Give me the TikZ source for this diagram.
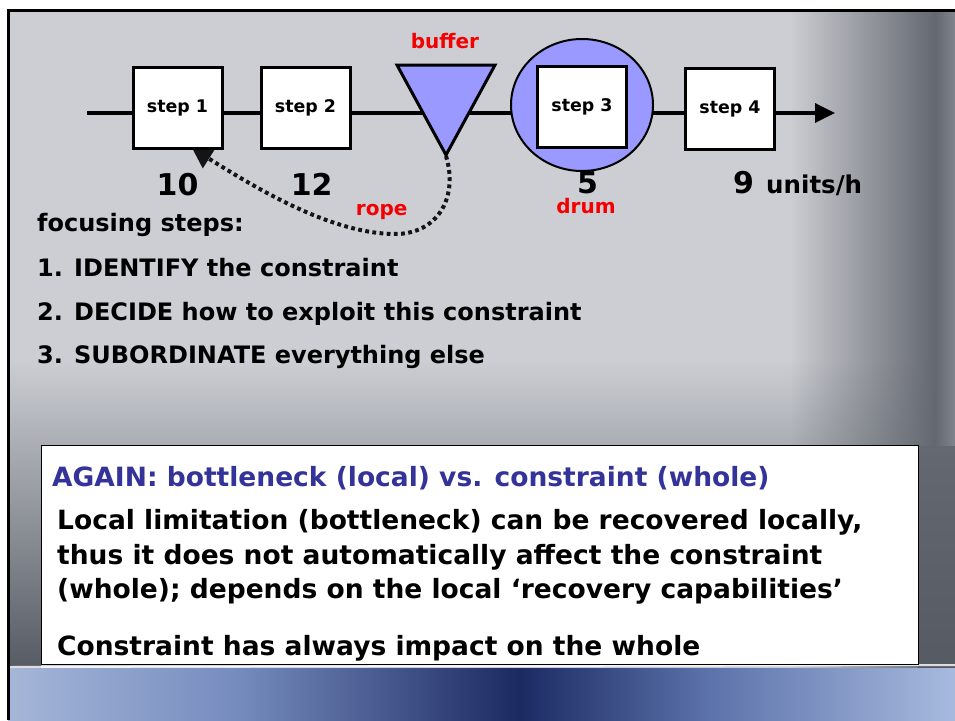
\documentclass[tikz,border=0pt]{standalone}
\usepackage{fontspec}
\setmainfont{DejaVu Sans}
\usetikzlibrary{arrows.meta,shapes.geometric,fadings}

\definecolor{bgbase}{RGB}{204,206,211}
\definecolor{bglow}{RGB}{170,174,180}
\definecolor{bgdark}{RGB}{100,104,112}
\definecolor{bgedge}{RGB}{128,132,140}
\definecolor{sidedark}{RGB}{86,90,98}
\definecolor{bufblue}{RGB}{153,153,255}
\definecolor{ropegray}{RGB}{20,20,20}
\definecolor{titleblue}{RGB}{51,51,153}
\definecolor{labelred}{RGB}{245,0,0}
\definecolor{bandA}{RGB}{165,182,216}
\definecolor{bandB}{RGB}{118,140,190}
\definecolor{bandC}{RGB}{28,42,98}
\definecolor{bandD}{RGB}{92,114,170}
\definecolor{bandE}{RGB}{168,186,222}

% blue band along the foot of the slide
\pgfdeclarehorizontalshading{footband}{100bp}{%
  color(0bp)=(bandA); color(25bp)=(bandA); color(37bp)=(bandB);
  color(52bp)=(bandC); color(62bp)=(bandD); color(75bp)=(bandE);
  color(100bp)=(bandE)}

\newcommand\setsz[1]{\fontsize{#1}{#1}\selectfont\bfseries}

\pgfdeclarelayer{backdrop}
\pgfdeclarelayer{background}
\pgfsetlayers{backdrop,background,main}

\begin{document}
\begin{tikzpicture}[x=1pt,y=-1pt,
  stepbox/.style={draw=black, line width=3pt, fill=white,
    minimum width=89pt, minimum height=81pt, inner sep=0pt, font=\setsz{17.4}},
  flow/.style={line width=3.5pt, draw=black},
  ropeline/.style={line width=4pt, draw=ropegray, dash pattern=on 3.8pt off 3.4pt},
  redlbl/.style={inner sep=0pt, anchor=base, text=labelred, font=\setsz{20}},
  rate/.style={inner sep=0pt, anchor=base, font=\setsz{30}},
  textline/.style={inner sep=0pt, anchor=base west, font=\setsz{24}},
  boxline/.style={inner sep=0pt, anchor=base west, font=\setsz{26.5}},
]
\useasboundingbox (0,0) rectangle (955,720);

% slide backdrop
\begin{pgfonlayer}{backdrop}
  \fill[white] (0,0) rectangle (955,720);
  \fill[bgbase] (8,10) rectangle (955,668);
  \fill[bglow, path fading=north] (8,360) rectangle (955,446);
  \fill[bgdark, path fading=west] (790,10) rectangle (935,668);
  \shade[left color=bgdark, right color=bgedge] (935,10) rectangle (955,668);
  \shade[top color=bglow, bottom color=sidedark] (8,446) rectangle (41,668);
  \shade[top color=bgdark, bottom color=sidedark] (918,446) rectangle (955,668);
  \shade[shading=footband] (8,668) rectangle (955,720);
  \draw[white, line width=2pt, opacity=0.8] (8,667) -- (955,665);
  % slide frame
  \draw[black, line width=3pt] (8.5,720) -- (8.5,10.5) -- (955,10.5);
\end{pgfonlayer}

% process steps
\node[stepbox] (s1) at (177.5,108) {step 1};
\node[stepbox] (s2) at (305.5,108) {step 2};
\draw[line width=3pt, fill=bufblue, line join=miter] (397,65) -- (495,65) -- (446,155) -- cycle;
\coordinate (buf) at (446,156);
\node[ellipse, draw=black, line width=2pt, fill=bufblue, minimum width=142pt,
      minimum height=132pt, inner sep=0pt] (drum) at (582,105) {};
\node[stepbox] (s3) at (582,107) {step 3};
\node[stepbox] (s4) at (730,108.5) {step 4};

% flow line and rope, kept behind the steps
\coordinate (src) at (87,113);
\coordinate (sink) at (835,113);
\coordinate (ropeend) at (192,148);
\begin{pgfonlayer}{background}
  \draw[flow, -{Triangle[length=20pt,width=19pt]}] (src) -- (sink);
  \draw[ropeline, -{Triangle[length=20pt,width=22pt]}] (buf)
     .. controls (458,195) and (440,232) .. (398,234)
     .. controls (335,235) and (262,192) .. (ropeend);
\end{pgfonlayer}

% labels of the line
\node[redlbl] (lbuf) at (445,48) {buffer};
\node[rate] (r1) at (177.5,195) {10};
\node[rate] (r2) at (311.7,195) {12};
\node[rate] (r3) at (587.5,193) {5};
\node[rate, anchor=base west] (r4) at (733,193) {9};
\node[inner sep=0pt, anchor=base west, font=\setsz{24.5}] (unit) at (766,193) {units/h};
\node[redlbl] (lrope) at (381.7,215) {rope};
\node[redlbl] (ldrum) at (586,213) {drum};

% focusing steps
\node[textline] (f0) at (37,231) {focusing steps:};
\node[textline] (f1) at (37,276) {1. IDENTIFY the constraint};
\node[textline] (f2) at (37,320) {2. DECIDE how to exploit this constraint};
\node[textline] (f3) at (37,363) {3. SUBORDINATE everything else};

% note box
\node[draw=black, line width=1.2pt, fill=white, minimum width=877pt,
      minimum height=219pt, inner sep=0pt, anchor=north west] (note) at (41,445) {};
\node[boxline, text=titleblue] (t0) at (52,486) {AGAIN: bottleneck (local) vs. constraint (whole)};
\node[boxline] (t1) at (57,529) {Local limitation (bottleneck) can be recovered locally,};
\node[boxline] (t2) at (57,564) {thus it does not automatically affect the constraint};
\node[boxline] (t3) at (57,598) {(whole); depends on the local ‘recovery capabilities’};
\node[boxline] (t4) at (57,655) {Constraint has always impact on the whole};
\end{tikzpicture}
\end{document}
